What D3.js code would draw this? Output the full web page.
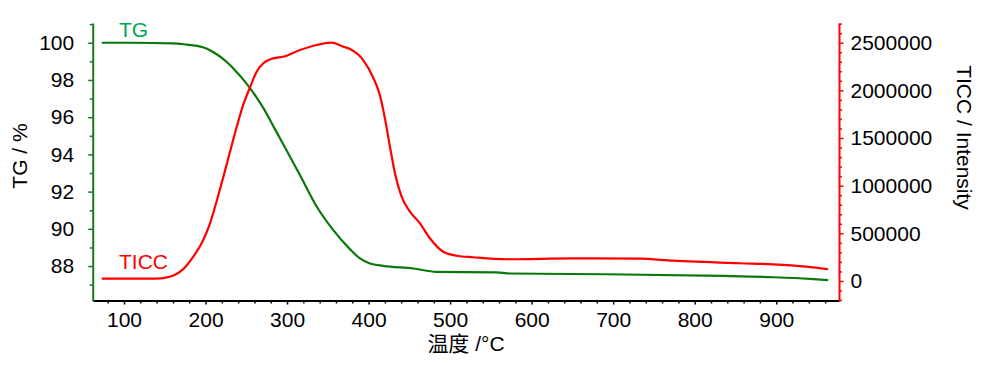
<!DOCTYPE html>
<html><head><meta charset="utf-8">
<script src="https://cdn.jsdelivr.net/npm/d3@7"></script>
<style>body{margin:0;background:#fff}svg{display:block}text{font-family:"Liberation Sans",Arial,sans-serif}</style>
</head><body><svg id="c" width="1000" height="365"></svg>
<script>
// Temperature (°C) and TG (%) readings
const tgTemp = [72.7,109.4,160,176.9,188,196.9,205.5,213.7,221.8,230,238.2,246.3,254.5,262.7,270.8,283.1,295.3,315.8,336.3,356.7,377.1,389.4,401.7,418,454.8,483.4,557,573.3,691.9,834.9,896.2,941.2,963.6];
const tgVal  = [100,100,99.97,99.9,99.84,99.76,99.6,99.38,99.12,98.8,98.42,98.02,97.56,97.05,96.5,95.52,94.55,92.89,91.2,89.93,88.91,88.41,88.14,88.01,87.87,87.69,87.66,87.6,87.56,87.47,87.4,87.31,87.24];
// Temperature (°C) and TICC intensity readings
const ticcTemp = [72.7,130,145,152.4,160.5,172.7,185,197.2,205.5,213.7,221.8,230,238.2,246.3,254.5,262.7,270.8,283.1,295.3,315.8,336.3,354.7,368.9,377.1,393.4,405.6,413.8,420,426.2,432.3,440.5,450.7,463,475.2,491.5,507.9,528.3,569.3,651,732.7,773.5,855.4,896.2,937.2,963.7];
const ticcVal  = [24000,24000,28000,38000,58000,125000,255000,430000,605000,840000,1090000,1355000,1615000,1850000,2030000,2196000,2284000,2336000,2353000,2423000,2476000,2500000,2458000,2434000,2318000,2135000,1951000,1707000,1409000,1130000,884000,727000,605000,448000,307000,265000,249000,228000,238000,234000,213000,186000,175000,150000,123000];
// Tick values
const xTicks = [100,200,300,400,500,600,700,800,900];
const yLTicks = [88,90,92,94,96,98,100];
const yRTicks = [0,500000,1000000,1500000,2000000,2500000];

const svg = d3.select("#c");
const L = 92.7, R = 839, T = 23, B = 300.5;
const x = d3.scaleLinear().domain([61.6, 977]).range([L, R]);
const yL = d3.scaleLinear().domain([86.15, 101.06]).range([B, T]);
const yR = d3.scaleLinear().domain([-204600, 2706700]).range([B, T]);

const GREEN_AX = "#1a7a1a", GREEN_LINE = "#0b780b", GREEN_TXT = "#00a651", RED = "#ff0000";
const FS = 21;
const FF = '"Liberation Sans",Arial,sans-serif';

// Bottom axis
const xMinor = d3.range(80, 977, 20).filter(v => v % 100 !== 0);
svg.append("g").attr("transform", `translate(0,${B})`)
  .call(d3.axisBottom(x).tickValues(xMinor).tickSize(3).tickFormat(""))
  .call(g => g.select(".domain").remove())
  .selectAll("line").attr("stroke", "#000").attr("stroke-width", 1.5);
const gx = svg.append("g").attr("transform", `translate(0,${B})`)
  .call(d3.axisBottom(x).tickValues(xTicks).tickSize(4).tickPadding(8).tickSizeOuter(0));
gx.select(".domain").attr("stroke", "#000").attr("stroke-width", 2);
gx.selectAll("line").attr("stroke", "#000").attr("stroke-width", 1.5);
gx.selectAll("text").attr("font-size", FS).attr("fill", "#000").attr("font-family", FF);

// Left axis
const yLMinor = d3.range(87, 102, 2);
svg.append("g").attr("transform", `translate(${L},0)`)
  .call(d3.axisLeft(yL).tickValues(yLMinor).tickSize(3).tickFormat(""))
  .call(g => g.select(".domain").remove())
  .selectAll("line").attr("stroke", GREEN_AX).attr("stroke-width", 1.5);
const gl = svg.append("g").attr("transform", `translate(${L},0)`)
  .call(d3.axisLeft(yL).tickValues(yLTicks).tickSize(4.5).tickPadding(14).tickSizeOuter(0));
gl.select(".domain").attr("stroke", GREEN_AX).attr("stroke-width", 2);
gl.selectAll("line").attr("stroke", GREEN_AX).attr("stroke-width", 1.5);
gl.selectAll("text").attr("font-size", FS).attr("fill", "#000").attr("font-family", FF);

// Right axis
const yRMinor = d3.range(-200000, 2700001, 100000).filter(v => v % 500000 !== 0);
svg.append("g").attr("transform", `translate(${R},0)`)
  .call(d3.axisRight(yR).tickValues(yRMinor).tickSize(3).tickFormat(""))
  .call(g => g.select(".domain").remove())
  .selectAll("line").attr("stroke", RED).attr("stroke-width", 1.5);
const gr = svg.append("g").attr("transform", `translate(${R},0)`)
  .call(d3.axisRight(yR).tickValues(yRTicks).tickSize(4.5).tickPadding(7).tickSizeOuter(0).tickFormat(d3.format("d")));
gr.select(".domain").attr("stroke", RED).attr("stroke-width", 2);
gr.selectAll("line").attr("stroke", RED).attr("stroke-width", 1.5);
gr.selectAll("text").attr("font-size", FS).attr("fill", "#000").attr("font-family", FF);

// Lines
const tgData = tgTemp.map((t, i) => [t, tgVal[i]]);
const ticcData = ticcTemp.map((t, i) => [t, ticcVal[i]]);
svg.append("path").datum(tgData)
  .attr("fill", "none").attr("stroke", GREEN_LINE).attr("stroke-width", 2.2)
  .attr("d", d3.line().x(d => x(d[0])).y(d => yL(d[1])).curve(d3.curveMonotoneX));
svg.append("path").datum(ticcData)
  .attr("fill", "none").attr("stroke", RED).attr("stroke-width", 2.2)
  .attr("d", d3.line().x(d => x(d[0])).y(d => yR(d[1])).curve(d3.curveMonotoneX));

// Series labels
svg.append("text").attr("x", 119).attr("y", 36.5).attr("font-size", FS).attr("fill", GREEN_TXT).text("TG");
svg.append("text").attr("x", 119).attr("y", 268.5).attr("font-size", FS).attr("fill", RED).text("TICC");

// Axis titles
svg.append("text").attr("transform", "translate(27,156) rotate(-90)").attr("text-anchor", "middle")
  .attr("font-size", FS).attr("fill", "#000").text("TG / %");
svg.append("text").attr("transform", "translate(957,137.5) rotate(90)").attr("text-anchor", "middle")
  .attr("font-size", FS).attr("fill", "#000").text("TICC / Intensity");
svg.append("text").attr("x", 466).attr("y", 351).attr("text-anchor", "middle")
  .attr("font-size", FS).attr("fill", "#000")
  .style("font-family", '"Liberation Sans","Noto Sans CJK SC",sans-serif').text("温度 /°C");
</script></body></html>
